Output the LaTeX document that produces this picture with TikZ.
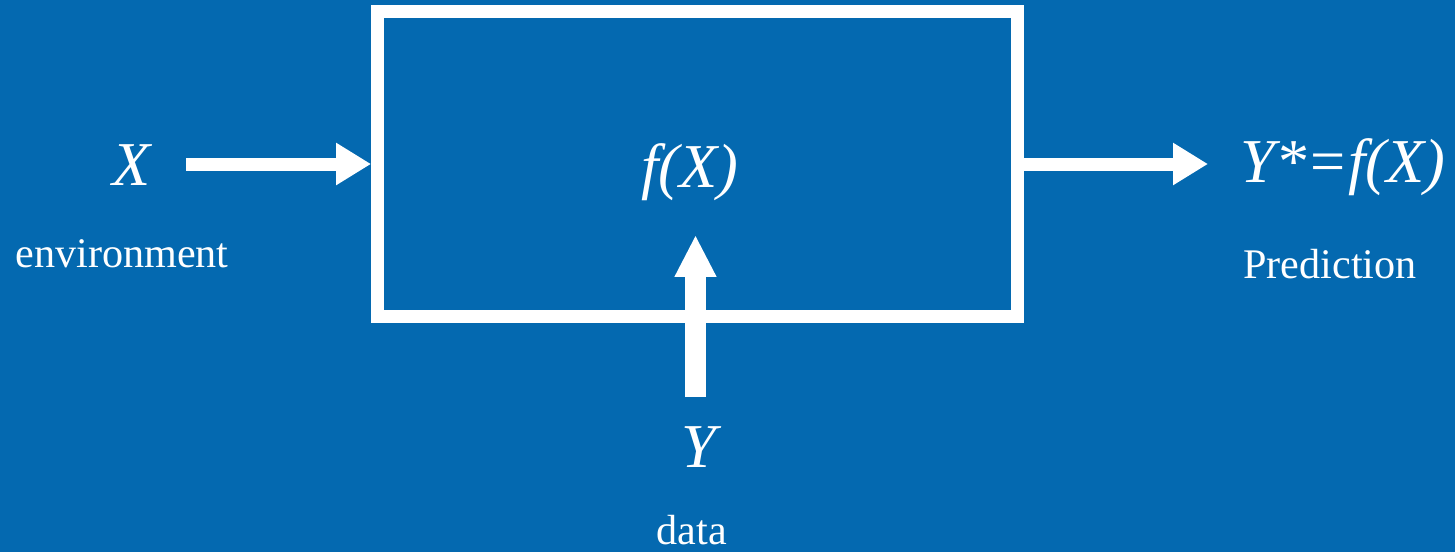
\documentclass[tikz,border=0pt]{standalone}
\usepackage{fontspec}
\setmainfont{Liberation Serif}
\usetikzlibrary{arrows.meta,positioning}
\definecolor{slideblue}{RGB}{4,105,176}

\begin{document}
\begin{tikzpicture}[
  x=0.02cm, y=-0.02cm,
  big/.style={text=white, inner sep=0pt, anchor=base,
    font=\fontsize{35.5pt}{40pt}\selectfont\itshape},
  small/.style={text=white, inner sep=0pt, anchor=base,
    font=\fontsize{24pt}{28pt}\selectfont},
  model/.style={draw=white, line width=0.26cm, minimum width=12.81cm,
    minimum height=6.1cm, inner sep=0pt},
  flow/.style={white, line width=0.26cm,
    -{Triangle[length=0.7cm, width=0.8cm]}},
  feed/.style={white, line width=0.42cm,
    -{Triangle[length=0.84cm, width=0.78cm]}},
]
  \fill[slideblue] (0,0) rectangle (1455,552);
  \useasboundingbox (0,0) rectangle (1455,552);

  \node[model] (box) at (697.75,164) {};
  \node[big] (fx) at (690,187) {f(X)};

  \node[big] (xlab) at (132,185) {X};
  \node[small] (env) at (122,267) {environment};
  \node[big] (ystar) at (1343,182) {Y*=f(X)};
  \node[small] (pred) at (1330,278) {Prediction};
  \node[big] (ylab) at (699,467) {Y};
  \node[small] (dat) at (692,544) {data};

  \coordinate (xin) at (186,164);
  \coordinate (yout) at (1208,164);
  \coordinate (ybot) at (695.5,397);
  \coordinate (ytop) at (695.5,235);

  \draw[flow] (xin) -- (box.west);
  \draw[flow] (box.east) -- (yout);
  \draw[feed] (ybot) -- (ytop);
\end{tikzpicture}
\end{document}
